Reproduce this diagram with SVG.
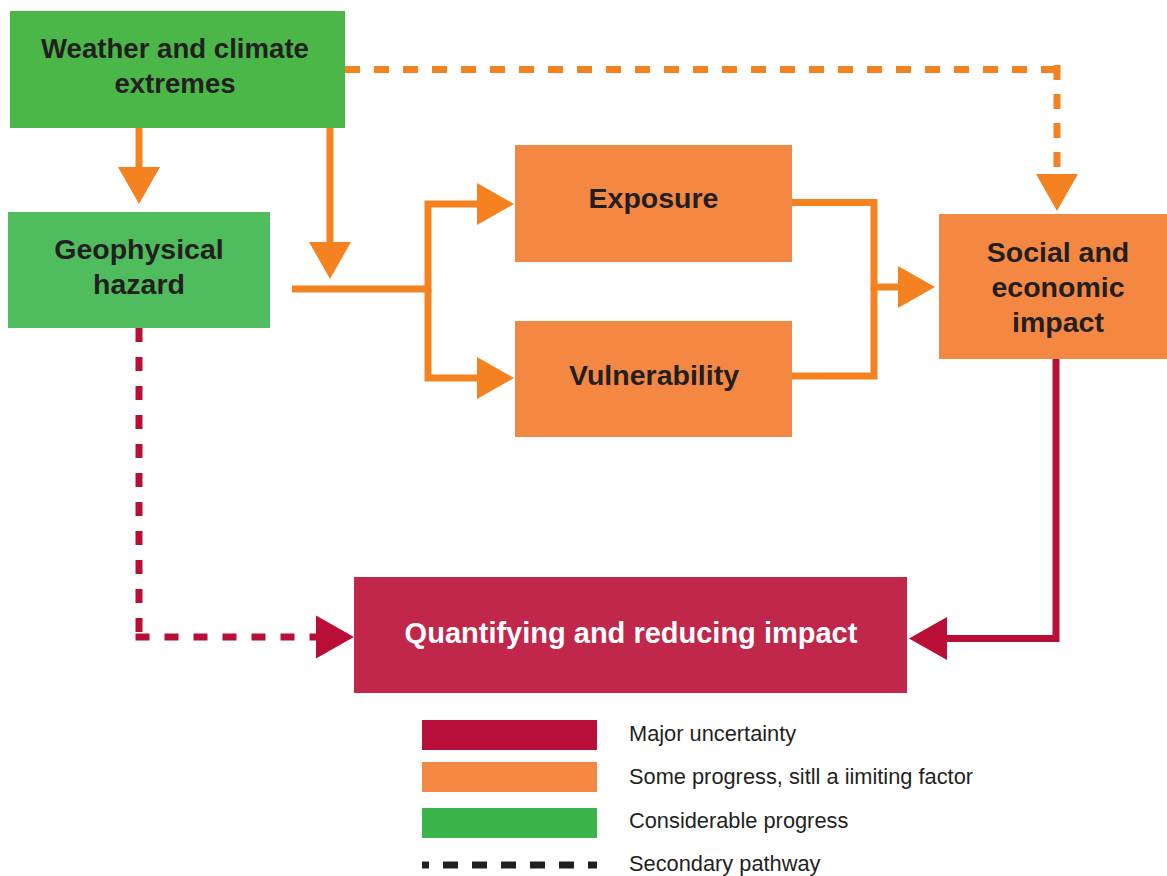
<svg xmlns="http://www.w3.org/2000/svg" width="1167" height="876" viewBox="0 0 1167 876">
<style>
.lbl{font-family:"Liberation Sans",Arial,sans-serif;font-weight:bold;font-size:28.5px;fill:#231f20;text-anchor:middle}
.wlbl{fill:#ffffff}
.leg{font-family:"Liberation Sans",Arial,sans-serif;font-size:21.8px;fill:#231f20}
.or{fill:none;stroke:#f58220;stroke-width:7;stroke-linejoin:miter}
.rd{fill:none;stroke:#b90f37;stroke-width:7;stroke-linejoin:miter}
.dashO{stroke-dasharray:15 14}
.dashR{stroke-dasharray:14 15}
</style>
<defs>
<marker id="aO" markerUnits="userSpaceOnUse" markerWidth="37" markerHeight="42" refX="0" refY="21" orient="auto" overflow="visible">
<path d="M0,0 L37,21 L0,42 Z" fill="#f58220"/>
</marker>
<marker id="aR" markerUnits="userSpaceOnUse" markerWidth="38" markerHeight="43" refX="0" refY="21.5" orient="auto" overflow="visible">
<path d="M0,0 L38,21.5 L0,43 Z" fill="#b90f37"/>
</marker>
</defs>
<rect width="1167" height="876" fill="#ffffff"/>
<g id="connectors">
<path class="or" d="M139,128 V167" marker-end="url(#aO)"/>
<path class="or" d="M330,128 V242" marker-end="url(#aO)"/>
<path class="or" d="M292,289 H428 V204 H477" marker-end="url(#aO)"/>
<path class="or" d="M428,289 V378 H477" marker-end="url(#aO)"/>
<path class="or" d="M792,202.5 H874 V287 H898" marker-end="url(#aO)"/>
<path class="or" d="M792,376 H874 V287"/>
<path class="or dashO" d="M345,69.5 H1057"/>
<path class="or dashO" d="M1057,65 V174" marker-end="url(#aO)"/>
<path class="rd dashR" d="M139,328 V637"/>
<path class="rd dashR" d="M135.5,637 H316" marker-end="url(#aR)"/>
<path class="rd" d="M1056,359 V638.5 H947" marker-end="url(#aR)"/>
</g>
<g id="weather">
<rect x="10" y="11" width="335" height="117" fill="#4ab748"/>
<text class="lbl" x="175" y="58" style="font-size:27.6px">Weather and climate</text>
<text class="lbl" x="175" y="92.5" style="font-size:27.6px">extremes</text>
</g>
<g id="geophysical">
<rect x="8" y="212" width="262" height="116" fill="#4fbc5e"/>
<text class="lbl" x="139" y="259">Geophysical</text>
<text class="lbl" x="139" y="294">hazard</text>
</g>
<g id="exposure">
<rect x="515" y="145" width="277" height="117" fill="#f48842"/>
<text class="lbl" x="653.5" y="208">Exposure</text>
</g>
<g id="vulnerability">
<rect x="515" y="321" width="277" height="116" fill="#f48842"/>
<text class="lbl" x="654" y="385">Vulnerability</text>
</g>
<g id="social">
<rect x="939" y="214" width="228" height="145" fill="#f48842"/>
<text class="lbl" x="1058" y="262">Social and</text>
<text class="lbl" x="1058" y="297">economic</text>
<text class="lbl" x="1058" y="332">impact</text>
</g>
<g id="quantifying">
<rect x="354" y="577" width="553" height="116" fill="#c1274b"/>
<text class="lbl wlbl" x="631" y="643" style="font-size:29px">Quantifying and reducing impact</text>
</g>
<g id="legend">
<rect x="422" y="720" width="175" height="30" fill="#b8103a"/>
<rect x="422" y="762" width="175" height="30" fill="#f48842"/>
<rect x="422" y="808" width="175" height="30" fill="#3bb54a"/>
<path d="M422,865 H597" fill="none" stroke="#231f20" stroke-width="7" stroke-dasharray="15 14" stroke-dashoffset="8"/>
<text class="leg" x="629" y="741">Major uncertainty</text>
<text class="leg" x="629" y="784">Some progress, sitll a iimiting factor</text>
<text class="leg" x="629" y="828">Considerable progress</text>
<text class="leg" x="629" y="871">Secondary pathway</text>
</g>
</svg>
